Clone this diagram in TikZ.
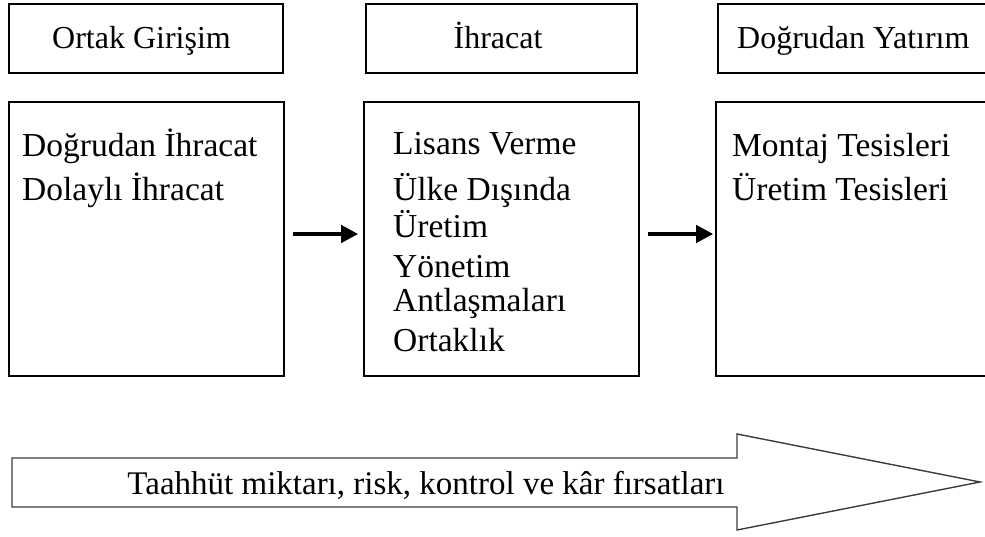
\documentclass[tikz,border=0pt]{standalone}
\usepackage{fontspec}
\setmainfont{Liberation Serif}
\usetikzlibrary{arrows.meta}
\definecolor{ArrowGray}{RGB}{60, 60, 60}

\begin{document}
\begin{tikzpicture}[x=1pt, y=1pt, >={Triangle[length=17pt, width=17pt]},
    head/.style={draw, line width=1.6pt, minimum width=274pt, minimum height=69pt, inner sep=0pt},
    panel/.style={draw, line width=1.6pt, minimum width=275pt, minimum height=274pt, inner sep=0pt},
    title/.style={anchor=base, inner sep=0pt, font=\fontsize{32}{33}\selectfont},
    items/.style={anchor=base west, inner sep=0pt, font=\fontsize{33.5}{34}\selectfont}]
  \useasboundingbox (0,0) rectangle (985,536);
  \clip (0,0) rectangle (985,536);
  % headings
  \node[head] (h1) at (146,497.5) {};
  \node[head, minimum width=271pt] (h2) at (501.5,497.5) {};
  \node[head, minimum width=275pt] (h3) at (855.5,497.5) {};
  \node[title] (h1t) at (141.5,487) {Ortak Girişim};
  \node[title] (h2t) at (498,487) {İhracat};
  \node[title, anchor=base west] (h3t) at (737,487) {Doğrudan Yatırım};
  % panels
  \node[panel] (p1) at (146.5,297) {};
  \node[panel] (p2) at (501.5,297) {};
  \node[panel] (p3) at (853.5,297) {};
  \node[items] (l1) at (22,379) {\begin{tabular}[t]{@{}l@{}}Doğrudan İhracat\\[6pt] Dolaylı İhracat\end{tabular}};
  \node[items] (l2) at (393,381) {\begin{tabular}[t]{@{}l@{}}Lisans Verme\\[8pt] Ülke Dışında\\ Üretim\\[6pt]
    Yönetim\\ Antlaşmaları\\[6pt] Ortaklık\end{tabular}};
  \node[items] (l3) at (732,379) {\begin{tabular}[t]{@{}l@{}}Montaj Tesisleri\\[6pt] Üretim Tesisleri\end{tabular}};
  \draw[->, line width=4pt, shorten <=8pt, shorten >=5pt] ([yshift=5pt]p1.east) -- ([yshift=5pt]p2.west);
  \draw[->, line width=4pt, shorten <=8pt, shorten >=2pt] ([yshift=5pt]p2.east) -- ([yshift=5pt]p3.west);
  % big arrow
  \draw[ArrowGray, line width=1.4pt, line join=miter]
    (12,78) -- (737,78) -- (737,102) -- (980,54) -- (737,6) -- (737,29) -- (12,29) -- cycle;
  \node[font=\fontsize{33}{34}\selectfont, anchor=base, inner sep=0pt] (gain) at (426,42)
    {Taahhüt miktarı, risk, kontrol ve kâr fırsatları};
\end{tikzpicture}
\end{document}
